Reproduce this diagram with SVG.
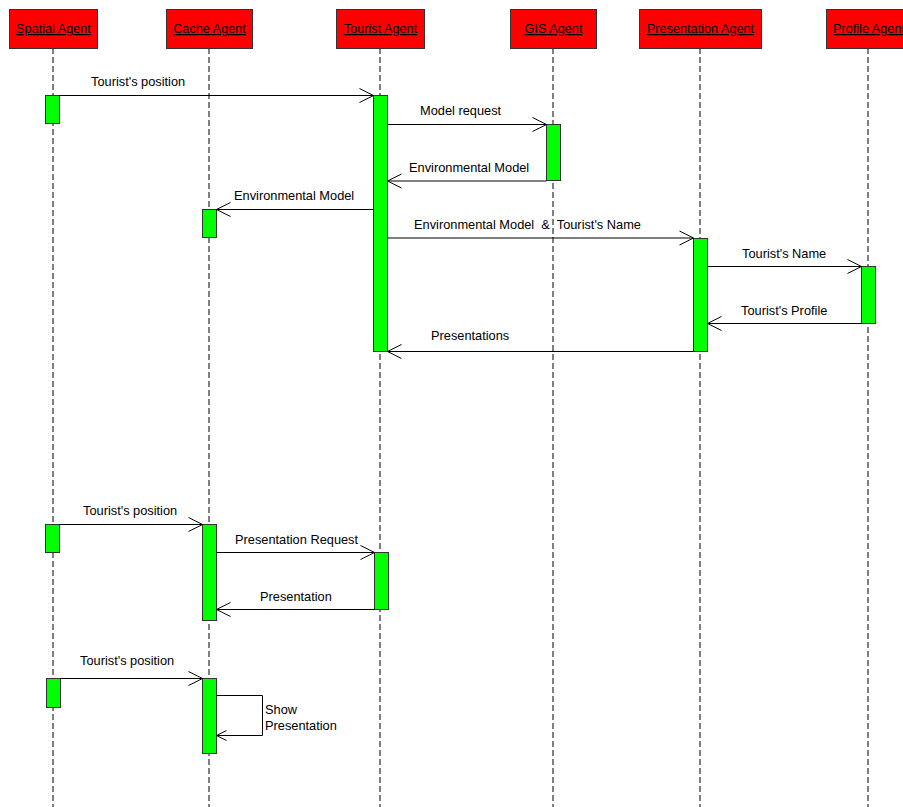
<svg xmlns="http://www.w3.org/2000/svg" width="903" height="807" viewBox="0 0 903 807">
<style>
.hdr{fill:#ff0000;stroke:#333333;stroke-width:1}
.hdrt{font-family:"Liberation Sans",Arial,sans-serif;font-size:12.7px;fill:#000;text-anchor:middle;text-decoration:underline}
.life{stroke:#000;stroke-width:1;stroke-dasharray:6 3;fill:none}
.act{fill:#00ff00;stroke:#333333;stroke-width:1}
.msg{stroke:#000;stroke-width:1;fill:none;marker-end:url(#arr)}
.lbl{font-family:"Liberation Sans",Arial,sans-serif;font-size:12.8px;fill:#000}
</style>
<defs>
<marker id="arr" viewBox="-15 -8 16 16" refX="0" refY="0" markerWidth="16" markerHeight="16" markerUnits="userSpaceOnUse" orient="auto">
<path d="M-14,-7 L0,0 L-14,7" fill="none" stroke="#000" stroke-width="1"/>
</marker>
<marker id="arrs" viewBox="-11 -6 12 12" refX="0" refY="0" markerWidth="12" markerHeight="12" markerUnits="userSpaceOnUse" orient="auto">
<path d="M-10,-5 L0,0 L-10,5" fill="none" stroke="#000" stroke-width="1"/>
</marker>
</defs>
<rect width="903" height="807" fill="#ffffff"/>
<g id="spatial">
<line class="life" x1="53" y1="48" x2="53" y2="807"/>
<rect class="hdr" x="9.5" y="9.5" width="88" height="39"/>
<text class="hdrt" x="53.5" y="33">Spatial Agent</text>
<rect class="act" x="45.5" y="95.5" width="14" height="28"/>
<rect class="act" x="45.5" y="524.5" width="14" height="28"/>
<rect class="act" x="46.5" y="678.5" width="14" height="29"/>
</g>
<g id="cache">
<line class="life" x1="209" y1="48" x2="209" y2="807"/>
<rect class="hdr" x="166.5" y="9.5" width="86" height="39"/>
<text class="hdrt" x="209.5" y="33">Cache Agent</text>
<rect class="act" x="202.5" y="209.5" width="14" height="28"/>
<rect class="act" x="202.5" y="524.5" width="14" height="96"/>
<rect class="act" x="202.5" y="678.5" width="14" height="75"/>
</g>
<g id="tourist">
<line class="life" x1="380" y1="48" x2="380" y2="807"/>
<rect class="hdr" x="336.5" y="9.5" width="88" height="39"/>
<text class="hdrt" x="380.5" y="33">Tourist Agent</text>
<rect class="act" x="373.5" y="95.5" width="14" height="256"/>
<rect class="act" x="374.5" y="552.5" width="14" height="57"/>
</g>
<g id="gis">
<line class="life" x1="553" y1="48" x2="553" y2="807"/>
<rect class="hdr" x="510.5" y="9.5" width="86" height="39"/>
<text class="hdrt" x="553.5" y="33">GIS Agent</text>
<rect class="act" x="546.5" y="124.5" width="14" height="56"/>
</g>
<g id="presentation">
<line class="life" x1="700" y1="48" x2="700" y2="807"/>
<rect class="hdr" x="639.5" y="9.5" width="122" height="39"/>
<text class="hdrt" x="700.5" y="33">Presentation Agent</text>
<rect class="act" x="693.5" y="238.5" width="14" height="113"/>
</g>
<g id="profile">
<line class="life" x1="868" y1="48" x2="868" y2="807"/>
<rect class="hdr" x="826.5" y="9.5" width="86" height="39"/>
<text class="hdrt" x="869" y="33">Profile Agent</text>
<rect class="act" x="861.5" y="266.5" width="14" height="57"/>
</g>
<g id="connectors">
<line class="msg" x1="59.5" y1="95.5" x2="373.5" y2="95.5"/>
<text class="lbl" x="91" y="86">Tourist's position</text>
<line class="msg" x1="387.5" y1="124.5" x2="546.5" y2="124.5"/>
<text class="lbl" x="420" y="115">Model request</text>
<line class="msg" x1="546.5" y1="181" x2="387.5" y2="181"/>
<text class="lbl" x="409" y="172">Environmental Model</text>
<line class="msg" x1="373.5" y1="209.5" x2="216.5" y2="209.5"/>
<text class="lbl" x="234" y="200">Environmental Model</text>
<line class="msg" x1="387.5" y1="238" x2="693.5" y2="238"/>
<text class="lbl" x="414" y="229" xml:space="preserve">Environmental Model  &amp;  Tourist's Name</text>
<line class="msg" x1="707.5" y1="266.5" x2="861.5" y2="266.5"/>
<text class="lbl" x="742" y="258">Tourist's Name</text>
<line class="msg" x1="861.5" y1="323.5" x2="707.5" y2="323.5"/>
<text class="lbl" x="741" y="315">Tourist's Profile</text>
<line class="msg" x1="693.5" y1="351.5" x2="387.5" y2="351.5"/>
<text class="lbl" x="431" y="340">Presentations</text>
<line class="msg" x1="59.5" y1="524.5" x2="202.5" y2="524.5"/>
<text class="lbl" x="83" y="515">Tourist's position</text>
<line class="msg" x1="216.5" y1="552.5" x2="374.5" y2="552.5"/>
<text class="lbl" x="235" y="544">Presentation Request</text>
<line class="msg" x1="374.5" y1="609.5" x2="216.5" y2="609.5"/>
<text class="lbl" x="260" y="601">Presentation</text>
<line class="msg" x1="60.5" y1="678.5" x2="202.5" y2="678.5"/>
<text class="lbl" x="80" y="665">Tourist's position</text>
<path d="M216.5,695.5 L262.5,695.5 L262.5,735.5 L216.5,735.5" fill="none" stroke="#000" stroke-width="1" marker-end="url(#arrs)"/>
<text class="lbl" x="265" y="714">Show</text>
<text class="lbl" x="265" y="730">Presentation</text>
</g>
</svg>
